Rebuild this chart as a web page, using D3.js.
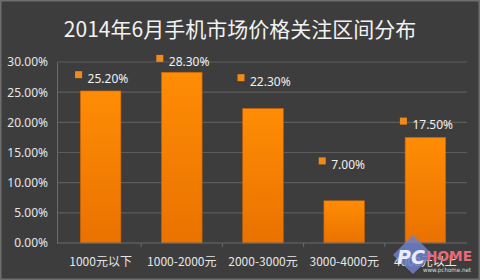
<!DOCTYPE html>
<html>
<head>
<meta charset="utf-8">
<script src="https://cdn.jsdelivr.net/npm/d3@7"></script>
<style>
  body { margin: 0; background: #3b3b3b; }
  svg { display: block; }
</style>
</head>
<body>
<div id="chart"></div>
<script>
// price ranges and share of attention (%)
const categories = ["1000元以下", "1000-2000元", "2000-3000元", "3000-4000元", "4000元以上"];
const shares = [25.2, 28.3, 22.3, 7.0, 17.5];
// where the data labels sit (in % units, as placed in the original)
const labelValues = [27.9, 30.6, 27.4, 13.6, 20.2];
const yTicks = [0, 5, 10, 15, 20, 25, 30];

const W = 480, H = 280;
const svg = d3.select("#chart").append("svg")
  .attr("width", W).attr("height", H);

// frame
svg.append("rect").attr("x", 0.5).attr("y", 0.5).attr("width", W - 1).attr("height", H - 1)
  .attr("fill", "#3d3d3d").attr("stroke", "#6e6e6e").attr("stroke-width", 2);

// title
svg.append("text")
  .attr("x", 240).attr("y", 37)
  .attr("text-anchor", "middle")
  .attr("fill", "#f2f2f2")
  .attr("font-family", "'Noto Sans CJK SC', 'Noto Sans', sans-serif")
  .attr("font-size", 21)
  .text("2014年6月手机市场价格关注区间分布");

const x = d3.scaleBand()
  .domain(categories)
  .range([60, 466])
  .paddingInner(0.5)
  .paddingOuter(0.25);

const y = d3.scaleLinear()
  .domain([0, 30])
  .range([243, 62]);

// gridlines
svg.append("g")
  .selectAll("line")
  .data(yTicks.slice(1))
  .join("line")
  .attr("x1", 57).attr("x2", 467)
  .attr("y1", d => y(d)).attr("y2", d => y(d))
  .attr("stroke", "#5c5c5c").attr("stroke-width", 1.2);

// y axis labels
const yAxis = svg.append("g")
  .attr("transform", "translate(57,0)")
  .call(d3.axisLeft(y).tickValues(yTicks).tickSize(0).tickPadding(9)
    .tickFormat(d => d.toFixed(2) + "%"));
yAxis.select(".domain").attr("stroke", "#6a6a6a");
yAxis.selectAll("text")
  .attr("fill", "#e6e6e6")
  .attr("font-family", "'Noto Sans', sans-serif")
  .attr("font-size", 12);

// bar gradient
const grad = svg.append("defs").append("linearGradient")
  .attr("id", "barGrad").attr("x1", 0).attr("y1", 0).attr("x2", 0).attr("y2", 1);
grad.append("stop").attr("offset", "0%").attr("stop-color", "#ff8c05");
grad.append("stop").attr("offset", "100%").attr("stop-color", "#e97200");

// bars
svg.append("g")
  .selectAll("rect")
  .data(shares)
  .join("rect")
  .attr("x", (d, i) => x(categories[i]))
  .attr("y", d => y(d))
  .attr("width", x.bandwidth())
  .attr("height", d => y(0) - y(d))
  .attr("fill", "url(#barGrad)")
  .attr("stroke", "#c86000")
  .attr("stroke-width", 0.6);

// x axis
const xAxis = svg.append("g")
  .attr("transform", "translate(0,243)")
  .call(d3.axisBottom(x).tickSize(0).tickPadding(14));
xAxis.select(".domain").attr("stroke", "#6a6a6a").attr("d", "M57,0H467");
xAxis.selectAll("text")
  .attr("fill", "#e6e6e6")
  .attr("font-family", "'Noto Sans CJK SC', 'Noto Sans', sans-serif")
  .attr("font-size", 12);
// small ticks between categories
xAxis.append("g").selectAll("line")
  .data(categories.slice(1))
  .join("line")
  .attr("x1", d => x(d) - x.step() * x.paddingInner() / 2)
  .attr("x2", d => x(d) - x.step() * x.paddingInner() / 2)
  .attr("y1", 0).attr("y2", 4)
  .attr("stroke", "#6a6a6a");

// data labels with square markers
const lab = svg.append("g")
  .selectAll("g")
  .data(shares)
  .join("g")
  .attr("transform", (d, i) => `translate(${x(categories[i]) + x.bandwidth() / 2 - 22},${y(labelValues[i])})`);
lab.append("rect")
  .attr("x", -3.5).attr("y", -3.5).attr("width", 7).attr("height", 7)
  .attr("fill", "#f28a1a");
lab.append("text")
  .attr("x", 9).attr("y", 8)
  .attr("fill", "#f0f0f0")
  .attr("font-family", "'Noto Sans', sans-serif")
  .attr("font-size", 12)
  .text(d => d.toFixed(2) + "%");

// watermark (sits over the last category label, as in the original)
const wm = svg.append("g").attr("transform", "translate(393,233)");
wm.append("path")
  .attr("d", "M0,22 L20,2 L40,22 L20,41 Z")
  .attr("fill", "#6f7fc9").attr("opacity", 0.85);
wm.append("text").attr("x", 4).attr("y", 31)
  .attr("font-family", "'DejaVu Sans', sans-serif").attr("font-weight", "bold").attr("font-style", "italic")
  .attr("font-size", 19).attr("fill", "#e8ecff").text("PC");
wm.append("text").attr("x", 33).attr("y", 28)
  .attr("font-family", "'DejaVu Sans', sans-serif").attr("font-weight", "bold")
  .attr("font-size", 14).attr("textLength", 46).attr("lengthAdjust", "spacingAndGlyphs")
  .attr("fill", "#e8697a").text("HOME");
wm.append("text").attr("x", 30).attr("y", 39)
  .attr("font-family", "'DejaVu Sans', sans-serif").attr("font-size", 6)
  .attr("textLength", 48).attr("lengthAdjust", "spacingAndGlyphs")
  .attr("fill", "#dddddd").text("www.pchome.net");
</script>
</body>
</html>
